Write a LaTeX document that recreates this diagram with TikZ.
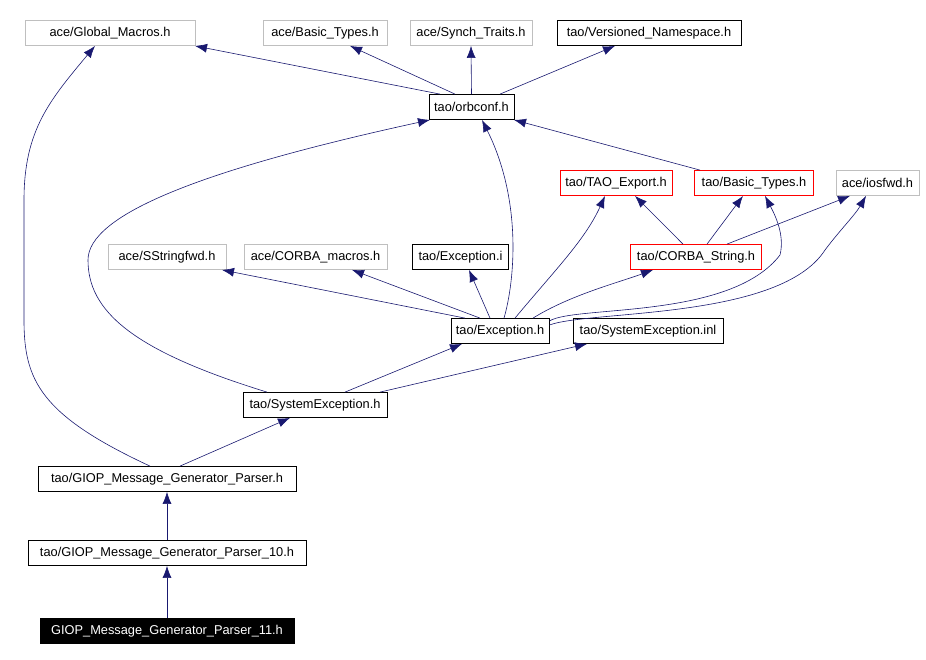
\documentclass[tikz,border=0pt]{standalone}
\usepackage{fontspec}
\setmainfont{Liberation Sans}
\usetikzlibrary{arrows.meta}
\definecolor{edge}{HTML}{191970}
\begin{document}
\begin{tikzpicture}[x=1pt,y=-1pt,
  box/.style={draw,rectangle,inner sep=0pt,minimum height=25pt,font=\fontsize{12.8}{14}\selectfont,line width=0.8pt},
  gbox/.style={box,draw=gray!50},
  rbox/.style={box,draw=red},
  kbox/.style={box,draw=black},
  dbox/.style={box,draw=black,fill=black,text=white},
  e/.style={draw=edge,line width=0.6pt,-{Latex[length=12pt,width=9pt]},shorten >=0pt}]
\useasboundingbox (0,0) rectangle (926,659);
\node[gbox,minimum width=170] (gm) at (110,33) {ace/Global\_Macros.h};
\node[gbox,minimum width=124] (abt) at (325,33) {ace/Basic\_Types.h};
\node[gbox,minimum width=122] (st) at (471,33) {ace/Synch\_Traits.h};
\node[kbox,minimum width=184] (vn) at (649,33) {tao/Versioned\_Namespace.h};
\node[kbox,minimum width=85] (oc) at (471.5,107) {tao/orbconf.h};
\node[rbox,minimum width=112] (te) at (616,183) {tao/TAO\_Export.h};
\node[rbox,minimum width=119] (tbt) at (754,183) {tao/Basic\_Types.h};
\node[gbox,minimum width=83] (io) at (877.5,183) {ace/iosfwd.h};
\node[gbox,minimum width=118] (ss) at (167,257) {ace/SStringfwd.h};
\node[gbox,minimum width=143] (cm) at (315.5,257) {ace/CORBA\_macros.h};
\node[kbox,minimum width=96] (ei) at (460.5,257) {tao/Exception.i};
\node[rbox,minimum width=131] (cs) at (696,257) {tao/CORBA\_String.h};
\node[kbox,minimum width=98] (ex) at (500,331) {tao/Exception.h};
\node[kbox,minimum width=150] (sei) at (648,331) {tao/SystemException.inl};
\node[kbox,minimum width=144] (se) at (315,405) {tao/SystemException.h};
\node[kbox,minimum width=258] (gp) at (167,479) {tao/GIOP\_Message\_Generator\_Parser.h};
\node[kbox,minimum width=278] (g10) at (167,553) {tao/GIOP\_Message\_Generator\_Parser\_10.h};
\node[dbox,minimum width=254] (g11) at (167,631) {GIOP\_Message\_Generator\_Parser\_11.h};

\draw[e] (g11.north) -- (g10.south);
\draw[e] (g10.north) -- (gp.south);
\draw[e] (gp.north -| 180,0) -- (se.south -| 290,0);
\draw[e] (gp.north -| 150,0) .. controls (40,415) and (24,380) .. (24,320) -- (24,200) .. controls (24,130) and (50,100) .. (gm.south -| 95,0);
\draw[e] (se.north -| 345,0) -- (ex.south -| 462,0);
\draw[e] (se.north -| 380,0) -- (sei.south -| 587,0);
\draw[e] (se.north -| 267,0) .. controls (130,350) and (88,310) .. (88,260) .. controls (88,215) and (200,170) .. (oc.south -| 430,0);
\draw[e] (ex.north -| 465,0) -- (ss.south -| 222,0);
\draw[e] (ex.north -| 480,0) -- (cm.south -| 352,0);
\draw[e] (ex.north -| 490,0) -- (ei.south -| 469,0);
\draw[e] (ex.north -| 504,0) .. controls (515,280) and (522,200) .. (oc.south -| 482,0);
\draw[e] (ex.north -| 515,0) .. controls (555,270) and (585,240) .. (te.south -| 605,0);
\draw[e] (ex.north -| 533,0) .. controls (570,295) and (620,282) .. (cs.south -| 653,0);
\draw[e] (ex.east |- 0,321) .. controls (575,305) and (730,320) .. (780,255) .. controls (785,235) and (775,215) .. (tbt.south -| 765,0);
\draw[e] (ex.east |- 0,325) .. controls (590,310) and (780,320) .. (825,250) .. controls (840,230) and (855,215) .. (io.south -| 866,0);
\draw[e] (cs.north -| 683,0) -- (te.south -| 635,0);
\draw[e] (cs.north -| 707,0) -- (tbt.south -| 743,0);
\draw[e] (cs.north -| 727,0) -- (io.south -| 850,0);
\draw[e] (tbt.north -| 700,0) -- (oc.south -| 514,0);
\draw[e] (oc.north -| 440,0) -- (gm.south -| 195,0);
\draw[e] (oc.north -| 455,0) -- (abt.south -| 350,0);
\draw[e] (oc.north) -- (st.south);
\draw[e] (oc.north -| 500,0) -- (vn.south -| 615,0);
\end{tikzpicture}
\end{document}
